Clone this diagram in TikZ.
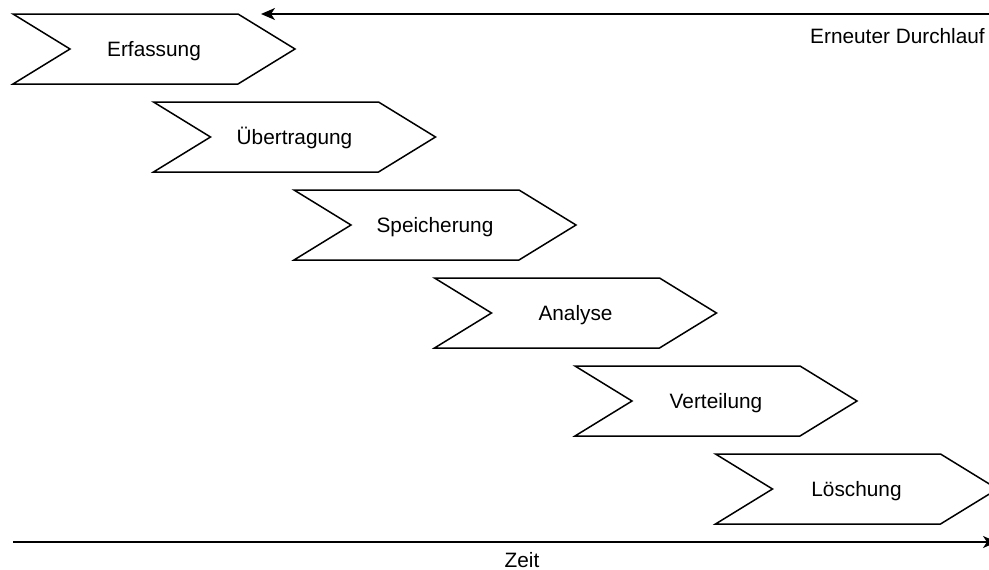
\documentclass[tikz,border=0pt]{standalone}
\usepackage{fontspec}
\setmainfont{Liberation Sans}
\usetikzlibrary{arrows.meta}
\begin{document}
\begin{tikzpicture}[x=1pt,y=-1pt,
  chev/.style={draw=black, line width=1.5pt, line join=miter, fill=white},
  lbl/.style={font=\fontsize{20.8}{25}\selectfont, inner sep=0pt, anchor=base},
  flow/.style={line width=1.5pt, -{Stealth[length=14pt,width=12pt,inset=4pt]}}]
\useasboundingbox (0,0) rectangle (989,570);
\clip (0,0) rectangle (989,570);
% process phases, each shifted right and down
\foreach \t [count=\i from 0] in {Erfassung,Übertragung,Speicherung,Analyse,Verteilung,Löschung} {
  \pgfmathsetmacro\xx{13+140.5*\i}
  \pgfmathsetmacro\yy{14+88*\i}
  \draw[chev] (\xx,\yy) -- ++(225,0) -- ++(57,35) -- ++(-57,35) -- ++(-225,0) -- ++(57,-35) -- cycle;
  \node[lbl] (s\i) at (\xx+141,\yy+42.5) {\t};
}
% feedback loop back to the first phase
\coordinate (loopstart) at (989,14);
\coordinate (loopend) at (261,14);
\draw[flow] (loopstart) -- (loopend);
\node[lbl, anchor=base east] (looplbl) at (985,43.5) {Erneuter Durchlauf};
% time axis
\coordinate (tstart) at (13,542);
\coordinate (tend) at (997,542);
\draw[flow] (tstart) -- (tend);
\node[lbl] (zeit) at (522,567) {Zeit};
\end{tikzpicture}
\end{document}
